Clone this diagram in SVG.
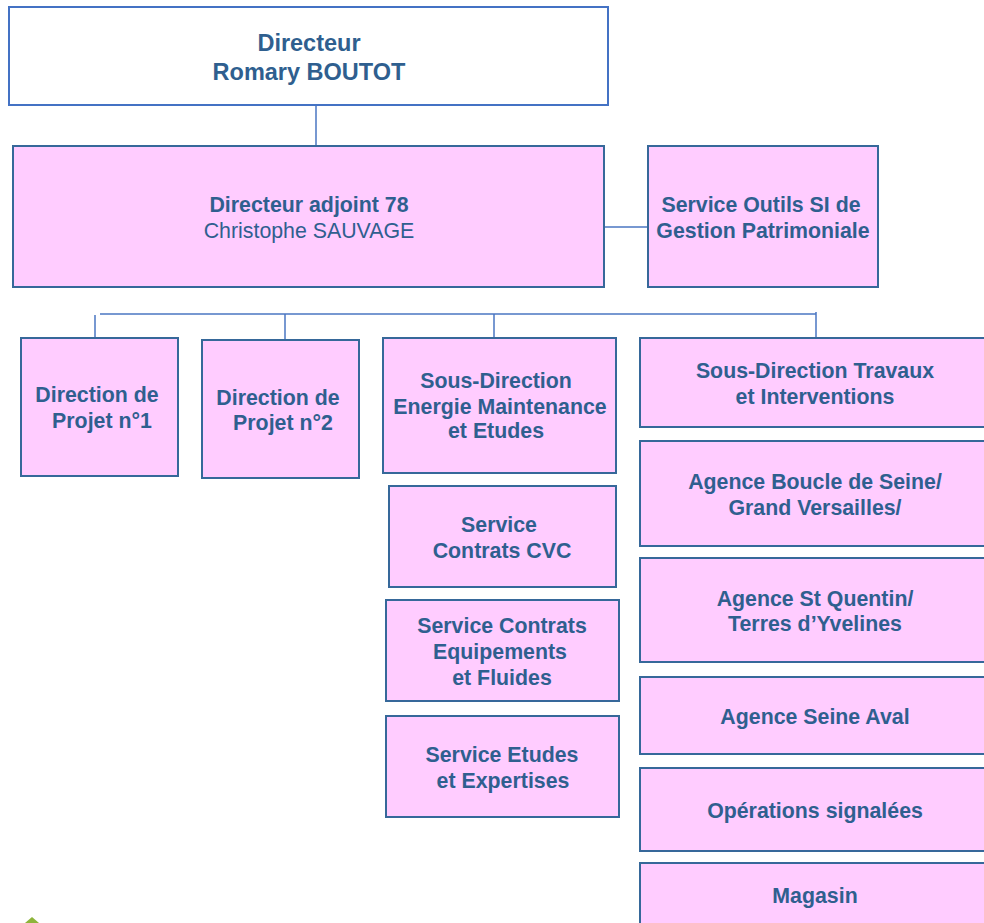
<svg xmlns="http://www.w3.org/2000/svg" width="984" height="923" viewBox="0 0 984 923">
<style>
  .box { fill: #FFCCFF; stroke: #36689A; stroke-width: 2; }
  .top { fill: #FFFFFF; stroke: #4472C4; stroke-width: 2; }
  .t { font-family: "Liberation Sans", Arial, sans-serif; font-size: 21.33px; font-weight: bold; fill: #2F5F8F; text-anchor: middle; }
  .tn { font-weight: normal; }
  .big { font-size: 23.5px; }
  .conn { stroke: #4A76C2; stroke-width: 1.5; fill: none; }
</style>
<rect width="984" height="923" fill="#FFFFFF"/>
<g id="connectors">
  <line class="conn" x1="316" y1="105" x2="316" y2="146"/>
  <line class="conn" x1="604" y1="227" x2="648" y2="227"/>
  <line class="conn" x1="100" y1="314" x2="816" y2="314"/>
  <line class="conn" x1="95" y1="315" x2="95" y2="338"/>
  <line class="conn" x1="285" y1="314" x2="285" y2="343"/>
  <line class="conn" x1="494" y1="314" x2="494" y2="338"/>
  <line class="conn" x1="816" y1="312" x2="816" y2="338"/>
</g>
<g id="directeur">
  <rect class="top" x="9" y="7" width="599" height="98"/>
  <text class="t big" x="309" y="51">Directeur</text>
  <text class="t big" x="309" y="80">Romary BOUTOT</text>
</g>
<g id="directeur-adjoint">
  <rect class="box" x="13" y="146" width="591" height="141"/>
  <text class="t" x="309" y="212">Directeur adjoint 78</text>
  <text class="t tn" x="309" y="238">Christophe SAUVAGE</text>
</g>
<g id="service-outils">
  <rect class="box" x="648" y="146" width="230" height="141"/>
  <text class="t" x="761" y="212">Service Outils SI de</text>
  <text class="t" x="763" y="238">Gestion Patrimoniale</text>
</g>
<g id="direction-projet-1">
  <rect class="box" x="21" y="338" width="157" height="138"/>
  <text class="t" x="97" y="402">Direction de</text>
  <text class="t" x="102" y="428">Projet n°1</text>
</g>
<g id="direction-projet-2">
  <rect class="box" x="202" y="340" width="157" height="138"/>
  <text class="t" x="278" y="405">Direction de</text>
  <text class="t" x="283" y="430">Projet n°2</text>
</g>
<g id="sous-direction-energie">
  <rect class="box" x="383" y="338" width="233" height="135"/>
  <text class="t" x="496" y="388">Sous-Direction</text>
  <text class="t" x="500" y="414">Energie Maintenance</text>
  <text class="t" x="496" y="438">et Etudes</text>
</g>
<g id="service-contrats-cvc">
  <rect class="box" x="389" y="486" width="227" height="101"/>
  <text class="t" x="499" y="532">Service</text>
  <text class="t" x="502" y="558">Contrats CVC</text>
</g>
<g id="service-contrats-equipements">
  <rect class="box" x="386" y="600" width="233" height="101"/>
  <text class="t" x="502" y="633">Service Contrats</text>
  <text class="t" x="500" y="659">Equipements</text>
  <text class="t" x="502" y="685">et Fluides</text>
</g>
<g id="service-etudes">
  <rect class="box" x="386" y="716" width="233" height="101"/>
  <text class="t" x="502" y="762">Service Etudes</text>
  <text class="t" x="503" y="788">et Expertises</text>
</g>
<g id="sous-direction-travaux">
  <rect class="box" x="640" y="338" width="352" height="89"/>
  <text class="t" x="815" y="378">Sous-Direction Travaux</text>
  <text class="t" x="815" y="404">et Interventions</text>
</g>
<g id="agence-boucle">
  <rect class="box" x="640" y="441" width="352" height="105"/>
  <text class="t" x="815" y="489">Agence Boucle de Seine/</text>
  <text class="t" x="815" y="515">Grand Versailles/</text>
</g>
<g id="agence-st-quentin">
  <rect class="box" x="640" y="558" width="352" height="104"/>
  <text class="t" x="815" y="606">Agence St Quentin/</text>
  <text class="t" x="815" y="631">Terres d’Yvelines</text>
</g>
<g id="agence-seine-aval">
  <rect class="box" x="640" y="677" width="352" height="77"/>
  <text class="t" x="815" y="724">Agence Seine Aval</text>
</g>
<g id="operations-signalees">
  <rect class="box" x="640" y="768" width="352" height="83"/>
  <text class="t" x="815" y="818">Opérations signalées</text>
</g>
<g id="magasin">
  <rect class="box" x="640" y="863" width="352" height="70"/>
  <text class="t" x="815" y="903">Magasin</text>
</g>
<polygon points="25,923 32,917 39,923" fill="#8DB43A"/>
</svg>
